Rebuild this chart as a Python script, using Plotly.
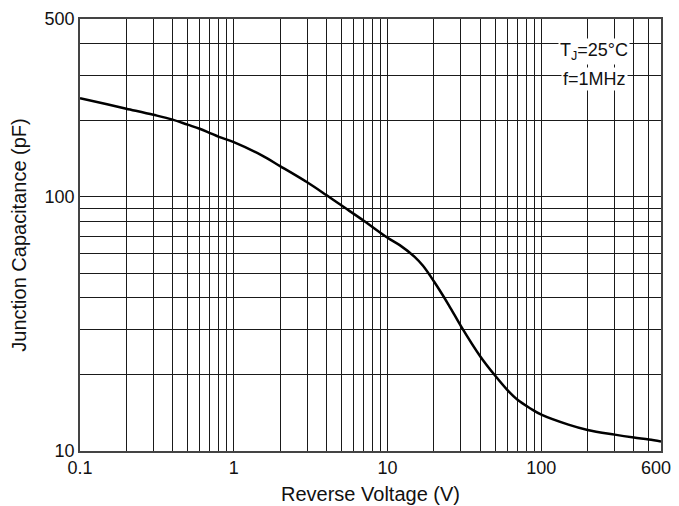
import plotly.graph_objects as go

# Data
voltage = [0.1, 0.15, 0.2, 0.3, 0.4, 0.5, 0.6, 0.7, 0.8, 1, 1.5, 2, 3, 4, 5, 7, 10,
           12, 15, 17, 20, 25, 30, 40, 50, 60, 70, 85, 100, 150, 200, 300, 400, 500, 600]
capacitance = [244, 231, 222, 210, 201, 192, 185, 178, 172, 164, 146, 132, 114, 101.5,
               92.5, 80.5, 69, 64.5, 58, 53.5, 46.5, 37.5, 31, 23.6, 19.8, 17.4, 15.9,
               14.7, 13.9, 12.7, 12.1, 11.6, 11.3, 11.1, 10.9]

x_tick_vals = [0.1, 1, 10, 100, 600]
# the last label gets trailing no-break spaces so it sits fully inside the window
x_tick_text = ["0.1", "1", "10", "100", "600\u00a0\u00a0"]
x_grid_vals = [0.2, 0.3, 0.4, 0.5, 0.6, 0.7, 0.8, 0.9,
               2, 3, 4, 5, 6, 7, 8, 9,
               20, 30, 40, 50, 60, 70, 80, 90,
               200, 300, 400, 500]
y_tick_vals = [10, 100, 500]
y_tick_text = ["10", "100", "500"]
y_grid_vals = [20, 30, 40, 50, 60, 70, 80, 90, 200, 300, 400]

FONT = "Liberation Sans, Arial, sans-serif"
GRID = "#1a1a1a"

fig = go.Figure()
fig.add_trace(go.Scatter(
    x=voltage, y=capacitance, mode="lines",
    line=dict(color="black", width=2.5, shape="spline", smoothing=1.0),
    showlegend=False, hoverinfo="skip",
))

axis_common = dict(
    type="log",
    showline=True, mirror=True, linecolor="#444", linewidth=1.5,
    showgrid=True, gridcolor=GRID, gridwidth=1,
    ticks="", zeroline=False, automargin=False,
    tickfont=dict(family=FONT, size=18, color="#111"),
)

fig.update_xaxes(
    **axis_common,
    range=[-1, 2.778151],
    tickmode="array", tickvals=x_tick_vals, ticktext=x_tick_text,
    minor=dict(tickmode="array", tickvals=x_grid_vals, showgrid=True,
               gridcolor=GRID, gridwidth=1, ticks=""),
    title=dict(text="Reverse Voltage (V)", font=dict(family=FONT, size=20, color="#111"),
               standoff=10),
)
fig.update_yaxes(
    **axis_common,
    range=[1, 2.69897],
    tickmode="array", tickvals=y_tick_vals, ticktext=y_tick_text,
    minor=dict(tickmode="array", tickvals=y_grid_vals, showgrid=True,
               gridcolor=GRID, gridwidth=1, ticks=""),
    title=dict(text="Junction Capacitance (pF)", font=dict(family=FONT, size=20, color="#111"),
               standoff=15),
)

fig.add_annotation(
    xref="paper", yref="paper", x=0.885, y=0.924,
    text="T<sub>J</sub>=25°C", showarrow=False,
    font=dict(family=FONT, size=18, color="#111"),
    bgcolor="white", borderpad=1, xanchor="center", yanchor="middle",
)
fig.add_annotation(
    xref="paper", yref="paper", x=0.885, y=0.861,
    text="f=1MHz", showarrow=False,
    font=dict(family=FONT, size=18, color="#111"),
    bgcolor="white", borderpad=1, xanchor="center", yanchor="middle",
)

# the page body adds an 8px offset; margins compensate so the plot area lands
# where the reference has it
fig.update_layout(
    width=679, height=498,
    margin=dict(l=72, r=26, t=11, b=55, autoexpand=False),
    paper_bgcolor="white", plot_bgcolor="white",
    font=dict(family=FONT),
)

fig.write_html("out.html")
